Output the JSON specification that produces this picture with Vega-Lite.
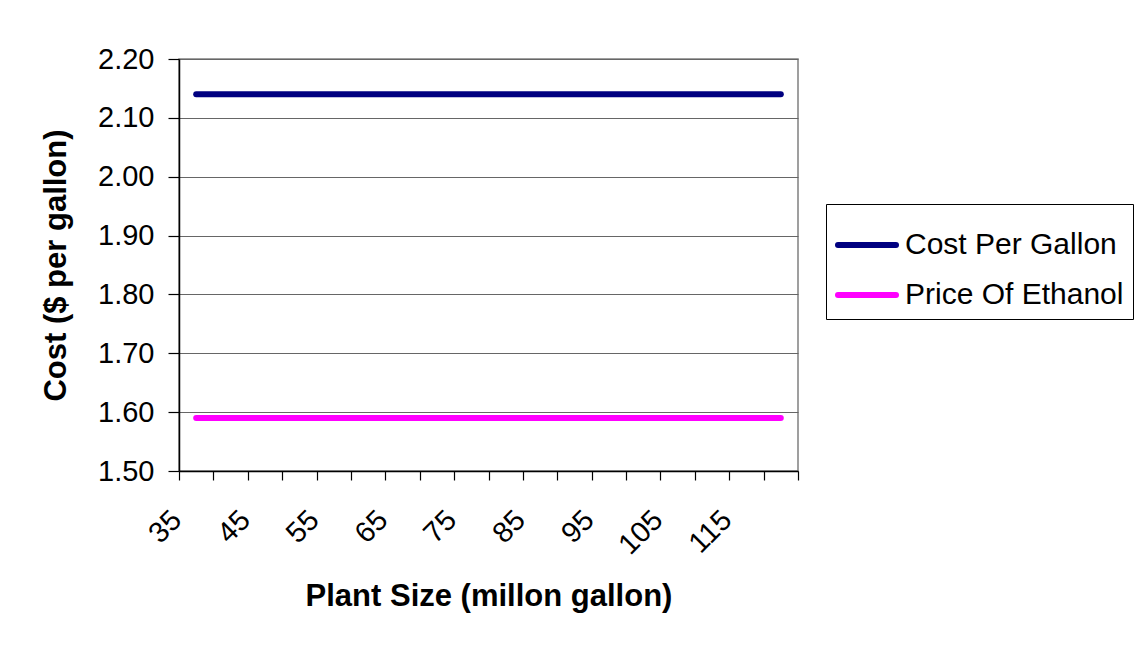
{
  "$schema": "https://vega.github.io/schema/vega-lite/v6.json",
  "autosize": "none",
  "width": 619,
  "height": 412,
  "padding": {"left": 179, "top": 59, "right": 342, "bottom": 177},
  "background": "white",
  "data": {
    "values": [
      {"size": 35, "series": "Cost Per Gallon", "cost": 2.14},
      {"size": 40, "series": "Cost Per Gallon", "cost": 2.14},
      {"size": 45, "series": "Cost Per Gallon", "cost": 2.14},
      {"size": 50, "series": "Cost Per Gallon", "cost": 2.14},
      {"size": 55, "series": "Cost Per Gallon", "cost": 2.14},
      {"size": 60, "series": "Cost Per Gallon", "cost": 2.14},
      {"size": 65, "series": "Cost Per Gallon", "cost": 2.14},
      {"size": 70, "series": "Cost Per Gallon", "cost": 2.14},
      {"size": 75, "series": "Cost Per Gallon", "cost": 2.14},
      {"size": 80, "series": "Cost Per Gallon", "cost": 2.14},
      {"size": 85, "series": "Cost Per Gallon", "cost": 2.14},
      {"size": 90, "series": "Cost Per Gallon", "cost": 2.14},
      {"size": 95, "series": "Cost Per Gallon", "cost": 2.14},
      {"size": 100, "series": "Cost Per Gallon", "cost": 2.14},
      {"size": 105, "series": "Cost Per Gallon", "cost": 2.14},
      {"size": 110, "series": "Cost Per Gallon", "cost": 2.14},
      {"size": 115, "series": "Cost Per Gallon", "cost": 2.14},
      {"size": 120, "series": "Cost Per Gallon", "cost": 2.14},
      {"size": 35, "series": "Price Of Ethanol", "cost": 1.59},
      {"size": 40, "series": "Price Of Ethanol", "cost": 1.59},
      {"size": 45, "series": "Price Of Ethanol", "cost": 1.59},
      {"size": 50, "series": "Price Of Ethanol", "cost": 1.59},
      {"size": 55, "series": "Price Of Ethanol", "cost": 1.59},
      {"size": 60, "series": "Price Of Ethanol", "cost": 1.59},
      {"size": 65, "series": "Price Of Ethanol", "cost": 1.59},
      {"size": 70, "series": "Price Of Ethanol", "cost": 1.59},
      {"size": 75, "series": "Price Of Ethanol", "cost": 1.59},
      {"size": 80, "series": "Price Of Ethanol", "cost": 1.59},
      {"size": 85, "series": "Price Of Ethanol", "cost": 1.59},
      {"size": 90, "series": "Price Of Ethanol", "cost": 1.59},
      {"size": 95, "series": "Price Of Ethanol", "cost": 1.59},
      {"size": 100, "series": "Price Of Ethanol", "cost": 1.59},
      {"size": 105, "series": "Price Of Ethanol", "cost": 1.59},
      {"size": 110, "series": "Price Of Ethanol", "cost": 1.59},
      {"size": 115, "series": "Price Of Ethanol", "cost": 1.59},
      {"size": 120, "series": "Price Of Ethanol", "cost": 1.59}
    ]
  },
  "mark": {"type": "line", "strokeWidth": 6, "strokeCap": "round"},
  "encoding": {
    "x": {
      "field": "size",
      "type": "ordinal",
      "bandPosition": 0.5,
      "scale": {"type": "band", "paddingInner": 0, "paddingOuter": 0},
      "axis": {
        "title": "Plant Size (millon gallon)",
        "tickBand": "extent",
        "tickSize": 9,
        "labelAngle": -45,
        "labelAlign": "right",
        "labelBaseline": "middle",
        "labelFontSize": 29,
        "labelPadding": 35,
        "labelOffset": -20,
        "labelExpr": "(datum.value - 35) % 10 === 0 ? datum.label : ''",
        "titlePadding": 22,
        "grid": false
      }
    },
    "y": {
      "field": "cost",
      "type": "quantitative",
      "scale": {"domain": [1.5, 2.2], "nice": false, "zero": false},
      "axis": {
        "title": "Cost ($ per gallon)",
        "values": [1.5, 1.6, 1.7, 1.8, 1.9, 2.0, 2.1, 2.2],
        "format": ".2f",
        "tickSize": 11,
        "labelPadding": 14,
        "titlePadding": 25,
        "grid": true
      }
    },
    "color": {
      "field": "series",
      "type": "nominal",
      "scale": {"domain": ["Cost Per Gallon", "Price Of Ethanol"], "range": ["#000080", "#FF00FF"]},
      "legend": {
        "title": null,
        "orient": "none",
        "legendX": 647,
        "legendY": 145,
        "strokeColor": "#000000",
        "fillColor": "#ffffff",
        "padding": 9,
        "symbolType": "stroke",
        "symbolSize": 3364,
        "symbolStrokeWidth": 6,
        "labelOffset": 6,
        "labelFontSize": 30,
        "labelFont": "Liberation Sans",
        "labelColor": "#000000",
        "labelLimit": 400,
        "rowPadding": 3,
        "encode": {"symbols": {"update": {"strokeCap": {"value": "round"}}}}
      }
    }
  },
  "config": {
    "view": {"stroke": "#808080", "strokeWidth": 1.5},
    "axis": {
      "labelFont": "Liberation Sans",
      "labelFontSize": 29,
      "labelColor": "#000000",
      "titleFont": "Liberation Sans",
      "titleFontSize": 31,
      "titleFontWeight": "bold",
      "titleColor": "#000000",
      "domainColor": "#000000",
      "domainWidth": 1.5,
      "tickColor": "#000000",
      "tickWidth": 1.2,
      "gridColor": "#666666",
      "gridWidth": 1.2,
      "gridOpacity": 1,
      "labelOverlap": false
    }
  }
}
